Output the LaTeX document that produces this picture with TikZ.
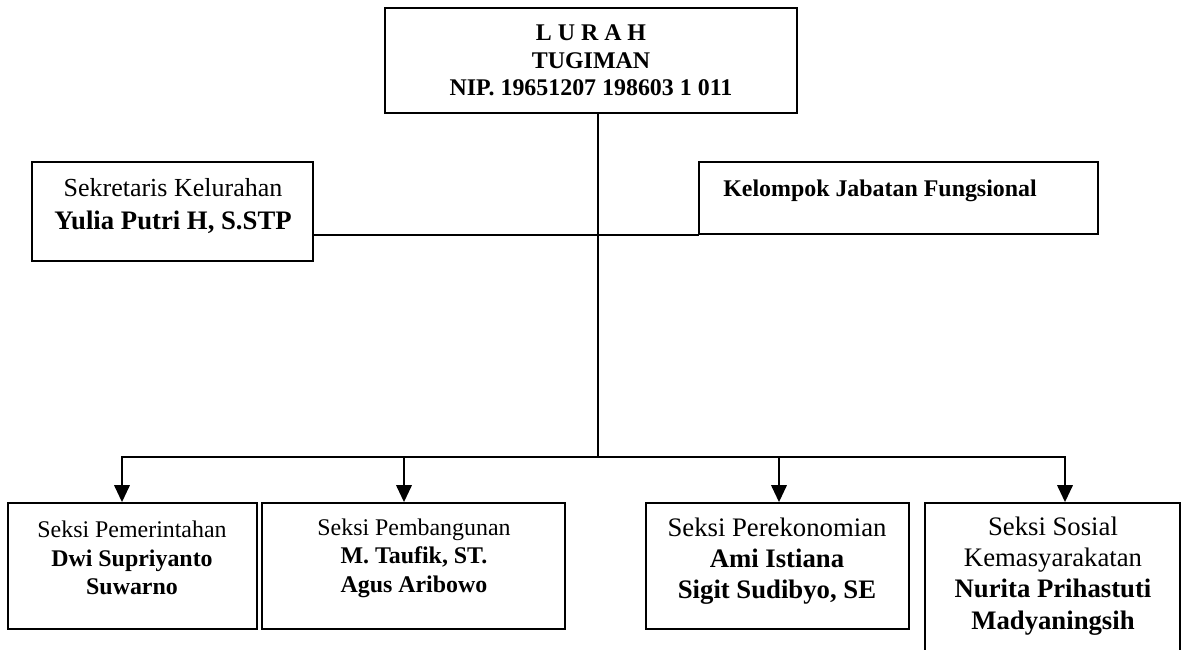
\documentclass[tikz,border=0pt]{standalone}
\usepackage{fontspec}
\setmainfont{Liberation Serif}
\usetikzlibrary{positioning,fit,arrows.meta}

\newcommand{\hurufKecil}{\fontsize{17}{20.3}\selectfont}
\newcommand{\hurufBesar}{\fontsize{19}{22.2}\selectfont}
\newcommand{\hurufSek}{\fontsize{18.5}{23.5}\selectfont}
\newcommand{\hurufLurah}{\fontsize{17}{19.6}\selectfont}

\tikzset{
  kotak/.style={draw, line width=1.3pt, inner sep=0pt},
  isi/.style={align=center, inner sep=0pt},
  garis/.style={line width=1.3pt, line cap=rect},
  panah/.style={line width=1.3pt, -{Triangle[length=12pt,width=11pt]}}
}

\begin{document}
\begin{tikzpicture}[x=0.025cm, y=-0.025cm]
\useasboundingbox (0,0) rectangle (1185,650);
\clip (0,0) rectangle (1185,650);
% kotak jabatan
\node[kotak, fit={(385,8) (797,113)}] (lurah) {};
\node[kotak, fit={(32,162) (313,261)}] (sekretaris) {};
\node[kotak, fit={(699,162) (1098,234)}] (fungsional) {};
\node[kotak, fit={(8,503) (257,629)}] (pemerintahan) {};
\node[kotak, fit={(262,503) (565,629)}] (pembangunan) {};
\node[kotak, fit={(646,503) (909,629)}] (ekonomi) {};
\node[kotak, fit={(925,503) (1180,690)}] (sosial) {};
% isi kotak
\node[isi, font=\hurufLurah\bfseries] (lurahT) at (lurah.center) {L U R A H\\TUGIMAN\\NIP. 19651207 198603 1 011};
\node[isi, font=\hurufSek] (sekretarisT) at (173,206) {Sekretaris Kelurahan\\{\fontsize{19}{23.5}\selectfont\bfseries Yulia Putri H, S.STP}};
\node[isi, font=\hurufKecil\bfseries, anchor=west] (fungsionalT) at (723,191) {Kelompok Jabatan Fungsional};
\node[isi, font=\hurufKecil] (pemerintahanT) at (132,558) {Seksi Pemerintahan\\\textbf{Dwi Supriyanto}\\\textbf{Suwarno}};
\node[isi, font=\hurufKecil] (pembangunanT) at (414,558) {Seksi Pembangunan\\\textbf{M. Taufik, ST.}\\\textbf{Agus Aribowo}};
\node[isi, font=\hurufBesar] (ekonomiT) at (777,561) {Seksi Perekonomian\\\textbf{Ami Istiana}\\\textbf{Sigit Sudibyo, SE}};
\node[isi, font=\hurufBesar] (sosialT) at (1053,576) {Seksi Sosial\\Kemasyarakatan\\\textbf{Nurita Prihastuti}\\\textbf{Madyaningsih}};
% garis komando
\coordinate (bus) at (598,457);
\draw[garis] (lurah.south -| bus) -- (bus);
\draw[garis] (sekretaris.east |- fungsional.south) -- (fungsional.south west);
\foreach \x/\b in {122/pemerintahan, 404/pembangunan, 779/ekonomi, 1065/sosial} {
  \coordinate (c-\b) at (\x,457);
  \draw[panah] (c-\b) -- (c-\b |- \b.north);
}
\draw[garis] (c-pemerintahan) -- (c-sosial);
\end{tikzpicture}
\end{document}
